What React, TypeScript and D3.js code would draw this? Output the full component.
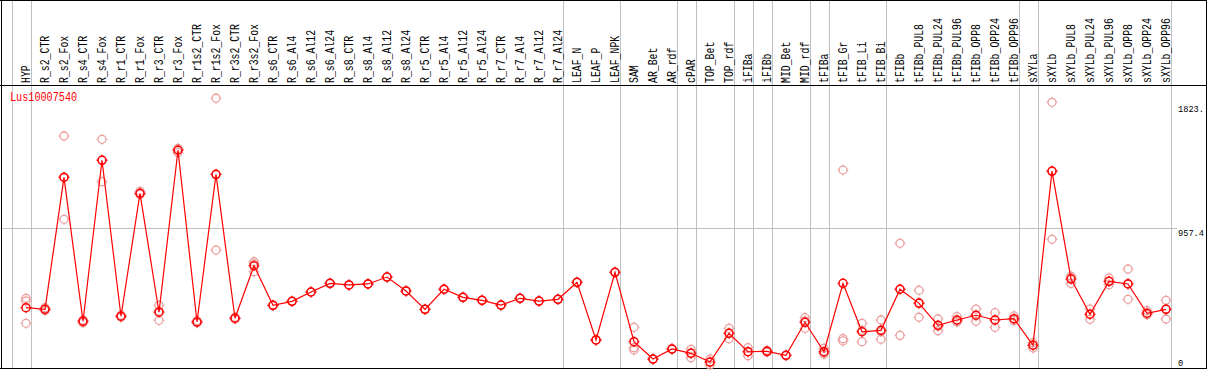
import React from "react";
import * as d3 from "d3";

const categories = [
  "HYP", "R_s2_CTR", "R_s2_Fox", "R_s4_CTR", "R_s4_Fox", "R_r1_CTR", "R_r1_Fox", "R_r3_CTR", "R_r3_Fox",
  "R_r1s2_CTR", "R_r1s2_Fox", "R_r3s2_CTR", "R_r3s2_Fox", "R_s6_CTR", "R_s6_Al4", "R_s6_Al12", "R_s6_Al24",
  "R_s8_CTR", "R_s8_Al4", "R_s8_Al12", "R_s8_Al24", "R_r5_CTR", "R_r5_Al4", "R_r5_Al12", "R_r5_Al24",
  "R_r7_CTR", "R_r7_Al4", "R_r7_Al12", "R_r7_Al24", "LEAF_N", "LEAF_P", "LEAF_NPK", "SAM", "AR_Bet", "AR_rdf",
  "cPAR", "TOP_Bet", "TOP_rdf", "iFIBa", "iFIBb", "MID_Bet", "MID_rdf", "tFIBa", "tFIB_Gr", "tFIB_Li", "tFIB_Bi",
  "tFIBb", "tFIBb_PUL8", "tFIBb_PUL24", "tFIBb_PUL96", "tFIBb_OPP8", "tFIBb_OPP24", "tFIBb_OPP96",
  "sXYLa", "sXYLb", "sXYLb_PUL8", "sXYLb_PUL24", "sXYLb_PUL96", "sXYLb_OPP8", "sXYLb_OPP24", "sXYLb_OPP96",
];

const means = [
  405, 393, 1312, 310, 1431, 345, 1201, 373, 1501, 305, 1333, 331, 697, 421, 449, 514, 574,
  563, 570, 618, 521, 393, 533, 477, 456, 423, 470, 451, 463, 581, 180, 651, 168, 47, 117,
  87, 26, 226, 98, 101, 73, 303, 98, 574, 237, 247, 533, 435, 282, 319, 352, 319, 328,
  143, 1356, 604, 359, 588, 570, 366, 393,
];

const replicates = [
  [470, 451, 296], [405, 388, 386], [1600, 1020, 1316], [318, 300, 312], [1577, 1282, 1434],
  [352, 338, 345], [1215, 1195, 1193], [421, 317, 381], [1514, 1484, 1505], [315, 300, 300],
  [1863, 806, 1330], [338, 326, 329], [725, 655, 711], [421, 421, 421], [449, 449, 449],
  [514, 514, 514], [574, 574, 574], [563, 563, 563], [570, 570, 570], [618, 618, 618],
  [521, 521, 521], [393, 393, 393], [533, 533, 533], [477, 477, 477], [456, 456, 456],
  [423, 423, 423], [470, 470, 470], [451, 451, 451], [463, 463, 463], [581, 581, 581],
  [180, 180, 180], [651, 651, 651], [268, 126, 110], [47, 47, 47], [120, 114, 117],
  [115, 56, 90], [47, 6, 25], [261, 189, 228], [126, 70, 98], [108, 95, 100],
  [73, 73, 73], [335, 261, 313], [122, 82, 90], [1363, 189, 173], [296, 168, 247],
  [319, 185, 237], [853, 212, 533], [526, 338, 441], [326, 244, 276], [342, 305, 310],
  [395, 310, 351], [370, 268, 319], [347, 314, 323], [161, 124, 144], [1835, 881, 1352],
  [625, 574, 613], [395, 324, 358], [611, 565, 588], [674, 463, 573], [384, 356, 358],
  [456, 326, 397],
];

const dividerAfter = [
  "HYP", "R_r7_Al24", "LEAF_NPK", "AR_rdf", "cPAR", "TOP_rdf", "iFIBa", "iFIBb", "MID_rdf",
  "tFIBa", "tFIB_Bi", "tFIBb_OPP96", "sXYLa", "sXYLb_OPP96",
];

const geneName = "Lus10007540";
const tickValues = [1823, 957.4, 0];
const tickLabels = ["1823.", "957.4", "0"];
const gridValues = [957.4];

const W = 1209;
const H = 370;
const FONT = "'Liberation Mono', 'DejaVu Sans Mono', monospace";

export default function App() {
  const x = d3.scalePoint<string>().domain(categories).range([26, 1166]);
  const step = x.step();
  const y = d3.scaleLinear().domain([0, 1823]).range([365.8, 104]);

  const line = d3
    .line<number>()
    .x((_, i) => x(categories[i]) as number)
    .y((d) => y(d));

  const dividerXs = [
    Math.round((x(categories[0]) as number) - step + 4.5) + 0.5,
    ...dividerAfter.map((c) => Math.round((x(c) as number) + 4.5) + 0.5),
  ];

  const marker = (cx: number, cy: number, color: string, key: string, sw: number) => (
    <g key={key} stroke={color} fill="none" strokeWidth={sw}>
      <circle cx={cx} cy={cy} r={4} />
      <line x1={cx} x2={cx} y1={cy - 5.5} y2={cy - 4} strokeWidth={1} />
      <line x1={cx} x2={cx} y1={cy + 4} y2={cy + 5.5} strokeWidth={1} />
      <line x1={cx - 5.5} x2={cx - 4} y1={cy} y2={cy} strokeWidth={1} />
      <line x1={cx + 4} x2={cx + 5.5} y1={cy} y2={cy} strokeWidth={1} />
    </g>
  );

  return (
    <svg
      width={W}
      height={H}
      style={{ position: "absolute", left: 0, top: 0, background: "#fff" }}
    >
      <rect x={0} y={0} width={W} height={H} fill="#fff" />
      {dividerXs.map((dx, i) => (
        <line key={"v" + i} x1={dx} x2={dx} y1={0} y2={369} stroke="#c0c0c0" strokeWidth={1} />
      ))}
      {gridValues.map((v, i) => (
        <line
          key={"h" + i}
          x1={1.5}
          x2={1177}
          y1={Math.round(y(v)) + 0.5}
          y2={Math.round(y(v)) + 0.5}
          stroke="#c0c0c0"
          strokeWidth={1}
        />
      ))}
      <line x1={0} x2={1207} y1={0.5} y2={0.5} stroke="#000" strokeWidth={1} />
      <line x1={0} x2={1207} y1={85.5} y2={85.5} stroke="#000" strokeWidth={1} />
      <line x1={0} x2={1207} y1={368.5} y2={368.5} stroke="#000" strokeWidth={1} />
      <line x1={1.5} x2={1.5} y1={0} y2={369} stroke="#000" strokeWidth={1} />
      <line x1={1206.5} x2={1206.5} y1={0} y2={369} stroke="#000" strokeWidth={1} />

      {categories.map((c) => (
        <text
          key={"t" + c}
          transform={`translate(${(x(c) as number) + 3.5},83) rotate(-90)`}
          fontFamily={FONT}
          fontSize={12.5}
          textLength={c.length * 5.9}
          lengthAdjust="spacingAndGlyphs"
          fill="#000"
        >
          {c}
        </text>
      ))}

      <text
        x={10}
        y={101}
        fontFamily={FONT}
        fontSize={12.5}
        textLength={geneName.length * 6.1}
        lengthAdjust="spacingAndGlyphs"
        fill="#ff0000"
      >
        {geneName}
      </text>

      {tickValues.map((v, i) => (
        <text
          key={"yl" + i}
          x={1178}
          y={Math.min(y(v) + 7.5, 366)}
          fontFamily={FONT}
          fontSize={9.5}
          textLength={tickLabels[i].length * 5.2}
          lengthAdjust="spacingAndGlyphs"
          fill="#000"
        >
          {tickLabels[i]}
        </text>
      ))}

      {replicates.map((reps, i) =>
        reps.map((v, j) => marker(x(categories[i]) as number, y(v), "#eba0a0", `r${i}_${j}`, 1.3))
      )}

      <path d={line(means) || ""} fill="none" stroke="#ff0000" strokeWidth={1.2} />

      {means.map((v, i) => marker(x(categories[i]) as number, y(v), "#ff0000", `m${i}`, 1.5))}
    </svg>
  );
}
